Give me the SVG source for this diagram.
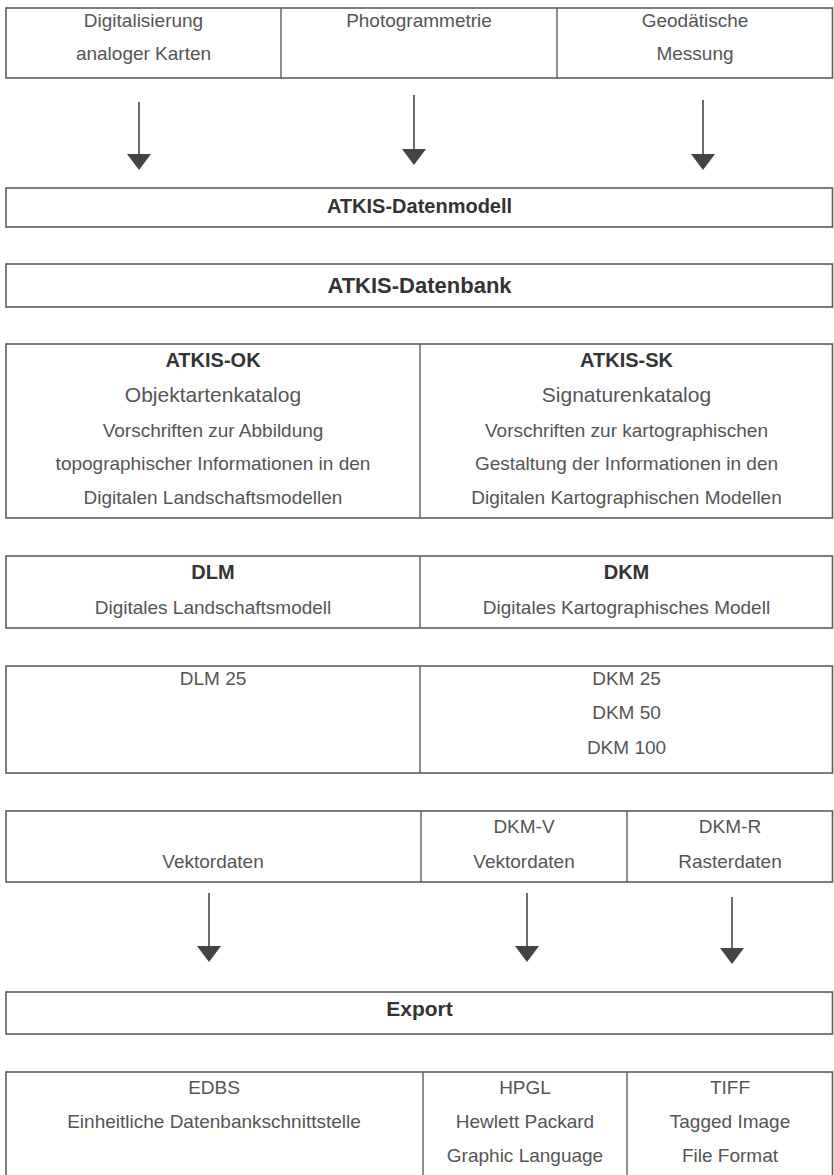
<svg xmlns="http://www.w3.org/2000/svg" width="834" height="1175" viewBox="0 0 834 1175">
<defs>
<style>
.box{fill:none;stroke:#5c5c5c;stroke-width:1.6}
.div{stroke:#5c5c5c;stroke-width:1.4}
.t{font-family:"Liberation Sans",Arial,sans-serif;font-size:19px;fill:#555;text-anchor:middle}
.b{font-family:"Liberation Sans",Arial,sans-serif;font-size:20px;font-weight:bold;fill:#333;text-anchor:middle}
.big{font-size:21px}
.conn{stroke:#444;stroke-width:1.6;fill:none}
</style>
<marker id="ah" viewBox="0 0 16 24" refX="0" refY="12" markerWidth="16" markerHeight="24" markerUnits="userSpaceOnUse" orient="auto">
<path d="M0,0 L16,12 L0,24 z" fill="#444"/>
</marker>
</defs>
<rect width="834" height="1175" fill="#fff"/>

<g id="quellen">
<rect class="box" x="6" y="8" width="826.5" height="70"/>
<line class="div" x1="281" y1="8" x2="281" y2="78"/>
<line class="div" x1="557" y1="8" x2="557" y2="78"/>
<text class="t" x="143.5" y="27">Digitalisierung</text>
<text class="t" x="143.5" y="60">analoger Karten</text>
<text class="t" x="419" y="27">Photogrammetrie</text>
<text class="t" x="695" y="27">Geodätische</text>
<text class="t" x="695" y="60">Messung</text>
</g>

<g id="datenmodell">
<rect class="box" x="6" y="188" width="826.5" height="39"/>
<text class="b" x="419.5" y="213">ATKIS-Datenmodell</text>
</g>

<g id="datenbank">
<rect class="box" x="6" y="264" width="826.5" height="43"/>
<text class="b" x="419.5" y="293" style="font-size:22px">ATKIS-Datenbank</text>
</g>

<g id="kataloge">
<rect class="box" x="6" y="344" width="826.5" height="174"/>
<line class="div" x1="420" y1="344" x2="420" y2="518"/>
<text class="b" x="213" y="367">ATKIS-OK</text>
<text class="t big" x="213" y="402">Objektartenkatalog</text>
<text class="t" x="213" y="437">Vorschriften zur Abbildung</text>
<text class="t" x="213" y="470">topographischer Informationen in den</text>
<text class="t" x="213" y="504">Digitalen Landschaftsmodellen</text>
<text class="b" x="626.5" y="367">ATKIS-SK</text>
<text class="t big" x="626.5" y="402">Signaturenkatalog</text>
<text class="t" x="626.5" y="437">Vorschriften zur kartographischen</text>
<text class="t" x="626.5" y="470">Gestaltung der Informationen in den</text>
<text class="t" x="626.5" y="504">Digitalen Kartographischen Modellen</text>
</g>

<g id="modelle">
<rect class="box" x="6" y="556" width="826.5" height="72"/>
<line class="div" x1="420" y1="556" x2="420" y2="628"/>
<text class="b" x="213" y="579">DLM</text>
<text class="t" x="213" y="614">Digitales Landschaftsmodell</text>
<text class="b" x="626.5" y="579">DKM</text>
<text class="t" x="626.5" y="614">Digitales Kartographisches Modell</text>
</g>

<g id="massstaebe">
<rect class="box" x="6" y="666" width="826.5" height="107"/>
<line class="div" x1="420" y1="666" x2="420" y2="773"/>
<text class="t" x="213" y="685">DLM 25</text>
<text class="t" x="626.5" y="685">DKM 25</text>
<text class="t" x="626.5" y="719">DKM 50</text>
<text class="t" x="626.5" y="754">DKM 100</text>
</g>

<g id="datenarten">
<rect class="box" x="6" y="811" width="826.5" height="71"/>
<line class="div" x1="421" y1="811" x2="421" y2="882"/>
<line class="div" x1="627" y1="811" x2="627" y2="882"/>
<text class="t" x="213" y="868">Vektordaten</text>
<text class="t" x="524" y="833">DKM-V</text>
<text class="t" x="524" y="868">Vektordaten</text>
<text class="t" x="730" y="833">DKM-R</text>
<text class="t" x="730" y="868">Rasterdaten</text>
</g>

<g id="export">
<rect class="box" x="6" y="992" width="826.5" height="42"/>
<text class="b" x="419.5" y="1016" style="font-size:21px">Export</text>
</g>

<g id="formate">
<rect class="box" x="6" y="1072" width="826.5" height="110"/>
<line class="div" x1="423" y1="1072" x2="423" y2="1182"/>
<line class="div" x1="627" y1="1072" x2="627" y2="1182"/>
<text class="t" x="214" y="1094">EDBS</text>
<text class="t" x="214" y="1128">Einheitliche Datenbankschnittstelle</text>
<text class="t" x="525" y="1094">HPGL</text>
<text class="t" x="525" y="1128">Hewlett Packard</text>
<text class="t" x="525" y="1162">Graphic Language</text>
<text class="t" x="730" y="1094">TIFF</text>
<text class="t" x="730" y="1128">Tagged Image</text>
<text class="t" x="730" y="1162">File Format</text>
</g>

<g id="connectors">
<line class="conn" x1="139" y1="102" x2="139" y2="154" marker-end="url(#ah)"/>
<line class="conn" x1="414" y1="95" x2="414" y2="149" marker-end="url(#ah)"/>
<line class="conn" x1="703" y1="100" x2="703" y2="154" marker-end="url(#ah)"/>
<line class="conn" x1="209" y1="893" x2="209" y2="946" marker-end="url(#ah)"/>
<line class="conn" x1="527" y1="893" x2="527" y2="946" marker-end="url(#ah)"/>
<line class="conn" x1="732" y1="897" x2="732" y2="948" marker-end="url(#ah)"/>
</g>
</svg>
